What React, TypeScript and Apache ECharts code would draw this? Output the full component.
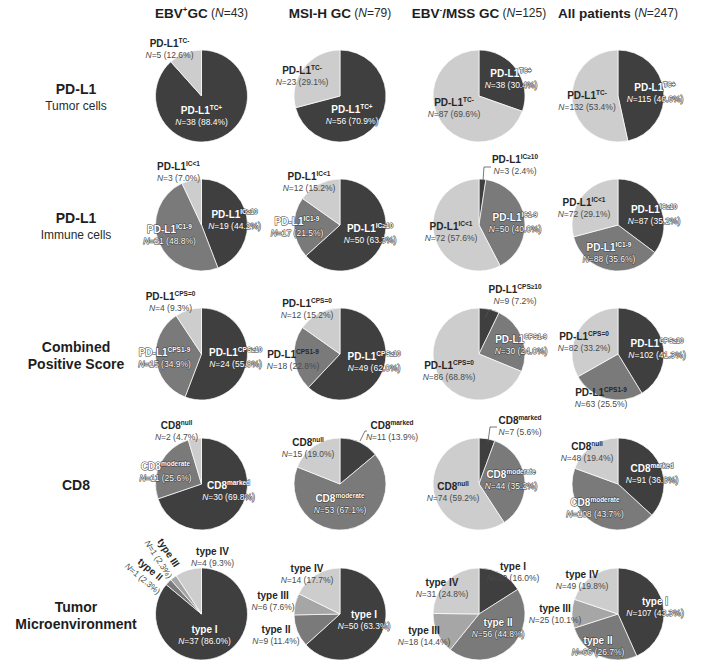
import React, { useEffect, useRef } from 'react';
import * as echarts from 'echarts';

// ---------- data ----------
const groupTitles = [['EBV', '+', 'GC'], ['MSI-H GC', '', ''], ['EBV', '-', '/MSS GC'], ['All patients', '', '']];
const groupTotals = [43, 79, 125, 247];

const rowTitles = [['PD-L1', 'Tumor cells'], ['PD-L1', 'Immune cells'], ['Combined', 'Positive Score'], ['CD8', ''], ['Tumor', 'Microenvironment']];

const tcCategories = [['PD-L1', 'TC+'], ['PD-L1', 'TC-']];
const tcCounts = [[38, 5], [56, 23], [38, 87], [115, 132]];
const tcPct = [['88.4', '12.6'], ['70.9', '29.1'], ['30.4', '69.6'], ['46.6', '53.4']];

const icCategories = [['PD-L1', 'IC≥10'], ['PD-L1', 'IC1-9'], ['PD-L1', 'IC<1']];
const icCounts = [[19, 21, 3], [50, 17, 12], [3, 50, 72], [87, 88, 72]];
const icPct = [['44.2', '48.8', '7.0'], ['63.3', '21.5', '15.2'], ['2.4', '40.0', '57.6'], ['35.2', '35.6', '29.1']];

const cpsCategories = [['PD-L1', 'CPS≥10'], ['PD-L1', 'CPS1-9'], ['PD-L1', 'CPS=0']];
const cpsCounts = [[24, 15, 4], [49, 18, 12], [9, 30, 86], [102, 63, 82]];
const cpsPct = [['55.8', '34.9', '9.3'], ['62.0', '22.8', '15.2'], ['7.2', '24.0', '68.8'], ['41.3', '25.5', '33.2']];

const cd8Categories = [['CD8', 'marked'], ['CD8', 'moderate'], ['CD8', 'null']];
const cd8Counts = [[30, 11, 2], [11, 53, 15], [7, 44, 74], [91, 108, 48]];
const cd8Pct = [['69.8', '25.6', '4.7'], ['13.9', '67.1', '19.0'], ['5.6', '35.2', '59.2'], ['36.8', '43.7', '19.4']];

const tmeCategories = [['type I', ''], ['type II', ''], ['type III', ''], ['type IV', '']];
const tmeCounts = [[37, 1, 1, 4], [50, 9, 6, 14], [20, 56, 18, 31], [107, 66, 25, 49]];
const tmePct = [['86.0', '2.3', '2.3', '9.3'], ['63.3', '11.4', '7.6', '17.7'], ['16.0', '44.8', '14.4', '24.8'], ['43.3', '26.7', '10.1', '19.8']];

const rowsData = [
  { cats: tcCategories, counts: tcCounts, pct: tcPct },
  { cats: icCategories, counts: icCounts, pct: icPct },
  { cats: cpsCategories, counts: cpsCounts, pct: cpsPct },
  { cats: cd8Categories, counts: cd8Counts, pct: cd8Pct },
  { cats: tmeCategories, counts: tmeCounts, pct: tmePct },
];

// ---------- layout / style ----------
const FONT = '"Liberation Sans", Arial, Helvetica, sans-serif';
const colX = [201.5, 340, 479, 618];
const rowY = [96, 225, 354, 484, 614];
const RADIUS = 46;
const DARK = '#3f3f3f';
const MID = '#7a7a7a';
const MID2 = '#a6a6a6';
const LIGHT = '#cdcdcd';
const rowColors = [
  [DARK, LIGHT],
  [DARK, MID, LIGHT],
  [DARK, MID, LIGHT],
  [DARK, MID, LIGHT],
  [DARK, MID, MID2, LIGHT],
];

// label offsets from pie centre: [dx, dy, mode('w' white / 'd' dark), rotationDeg]
const labelPos: any[][][] = [
  [
    [[0, 20, 'w'], [-32, -47, 'd']],
    [[12, 19, 'w'], [-38, -20, 'd']],
    [[32, -17, 'w'], [-25, 12, 'd']],
    [[37, -3, 'w'], [-31, 5, 'd']],
  ],
  [
    [[33, -5, 'w'], [-32, 10, 'w'], [-23, -53, 'd']],
    [[30, 9, 'w'], [-43, 2, 'w'], [-31, -43, 'd']],
    [[36, -60, 'd'], [36, -2, 'w'], [-28, 7, 'd']],
    [[36, -10, 'w'], [-9, 28, 'w'], [-34, -17, 'd']],
  ],
  [
    [[34, 4, 'w'], [-37, 4, 'w'], [-31, -52, 'd']],
    [[34, 8, 'w'], [-47, 6, 'd'], [-33, -45, 'd']],
    [[36, -59, 'd'], [42, -9, 'w'], [-30, 17, 'd']],
    [[39, -5, 'w'], [-17, 44, 'd'], [-34, -12, 'd']],
  ],
  [
    [[27, 7, 'w'], [-36, -12, 'w'], [-25, -53, 'd']],
    [[52, -53, 'd'], [0, 20, 'w'], [-32, -36, 'd']],
    [[41, -58, 'd'], [32, -4, 'w'], [-26, 8, 'd']],
    [[34, -10, 'w'], [-23, 24, 'w'], [-31, -32, 'd']],
  ],
  [
    [[3, 21, 'w'], [-55, -40, 'd', -40], [-38, -58, 'd', -57], [11, -57, 'd']],
    [[24, 6, 'w'], [-64, 21, 'd'], [-67, -13, 'd'], [-33, -40, 'd']],
    [[34, -42, 'd'], [19, 14, 'w'], [-55, 22, 'd'], [-37, -26, 'd']],
    [[37, -7, 'w'], [-20, 32, 'w'], [-63, 0, 'd'], [-36, -34, 'd']],
  ],
];

// leader lines: [row, col, points relative to pie centre]
const leaders: [number, number, number[][]][] = [
  [1, 2, [[4, -44], [5, -58], [12, -58]]],
  [2, 2, [[6, -36], [10, -44], [13, -44]]],
  [3, 1, [[20, -43], [25, -53], [27, -53]]],
  [3, 2, [[9, -42], [11, -57], [18, -57]]],
];

function labelRich(mode: string) {
  const white = mode === 'w';
  const c1 = white ? '#ffffff' : '#262626';
  const c2 = white ? '#ffffff' : '#4a4a4a';
  const stroke = white ? { stroke: '#3a3a3a', lineWidth: 1 } : {};
  return {
    b: { fontFamily: FONT, fontSize: 10, fontWeight: 'bold', fill: c1, lineHeight: 12, ...stroke },
    s: { fontFamily: FONT, fontSize: 6.5, fontWeight: 'bold', fill: c1, verticalAlign: 'top', lineHeight: 8, ...stroke },
    i: { fontFamily: FONT, fontSize: 8.5, fontStyle: 'italic', fill: c2, lineHeight: 12, ...stroke },
    n: { fontFamily: FONT, fontSize: 8.5, fill: c2, lineHeight: 12, ...stroke },
  };
}

export default function App() {
  const ref = useRef<HTMLDivElement>(null);
  useEffect(() => {
    document.body.style.margin = '0';
    if (!ref.current) return;
    const chart = echarts.init(ref.current, undefined, { renderer: 'svg' });

    const series: any[] = [];
    const graphics: any[] = [];

    rowsData.forEach((rd, r) => {
      rd.counts.forEach((vals, c) => {
        series.push({
          type: 'pie',
          center: [colX[c], rowY[r]],
          radius: RADIUS,
          startAngle: 90,
          clockwise: true,
          silent: true,
          label: { show: false },
          labelLine: { show: false },
          emphasis: { disabled: true },
          itemStyle: { borderColor: '#ffffff', borderWidth: 0.7 },
          data: vals.map((v, k) => ({
            name: rd.cats[k][0] + rd.cats[k][1],
            value: v,
            itemStyle: { color: rowColors[r][k] },
          })),
        });
        vals.forEach((v, k) => {
          const p = labelPos[r][c][k];
          const sup = rd.cats[k][1] ? `{s|${rd.cats[k][1]}}` : '';
          const text = `{b|${rd.cats[k][0]}}${sup}\n{i|N}{n|=${v} (${rd.pct[c][k]}%)}`;
          graphics.push({
            type: 'text',
            x: colX[c] + p[0],
            y: rowY[r] + p[1],
            rotation: p[3] ? (p[3] * Math.PI) / 180 : 0,
            silent: true,
            z: 10,
            style: {
              text,
              align: 'center',
              verticalAlign: 'middle',
              textAlign: 'center',
              textVerticalAlign: 'middle',
              rich: labelRich(p[2]),
            },
          });
        });
      });
    });

    leaders.forEach(([r, c, pts]) => {
      graphics.push({
        type: 'polyline',
        silent: true,
        z: 9,
        shape: { points: pts.map(([dx, dy]) => [colX[c] + dx, rowY[r] + dy]) },
        style: { stroke: '#555555', lineWidth: 0.8, fill: null },
      });
    });

    // column headers
    groupTitles.forEach((g, c) => {
      const sup = g[1] ? `{bs|${g[1]}}` : '';
      const tail = g[2] ? `{b|${g[2]}}` : '';
      graphics.push({
        type: 'text',
        x: colX[c],
        y: 13,
        silent: true,
        style: {
          text: `{b|${g[0]}}${sup}${tail}{r| (}{ri|N}{r|=${groupTotals[c]})}`,
          align: 'center',
          verticalAlign: 'middle',
          textAlign: 'center',
          textVerticalAlign: 'middle',
          rich: {
            b: { fontFamily: FONT, fontSize: 13.5, fontWeight: 'bold', fill: '#1e1e1e', lineHeight: 16 },
            bs: { fontFamily: FONT, fontSize: 8, fontWeight: 'bold', fill: '#1e1e1e', verticalAlign: 'top', lineHeight: 10 },
            r: { fontFamily: FONT, fontSize: 12, fill: '#2a2a2a', lineHeight: 16 },
            ri: { fontFamily: FONT, fontSize: 12, fontStyle: 'italic', fill: '#2a2a2a', lineHeight: 16 },
          },
        },
      });
    });

    // row titles
    rowTitles.forEach((t, r) => {
      const bothBold = r === 2 || r === 4;
      const text = t[1] ? `{b|${t[0]}}\n{${bothBold ? 'b' : 'r'}|${t[1]}}` : `{b|${t[0]}}`;
      graphics.push({
        type: 'text',
        x: 76,
        y: rowY[r] + 1,
        silent: true,
        style: {
          text,
          align: 'center',
          verticalAlign: 'middle',
          textAlign: 'center',
          textVerticalAlign: 'middle',
          rich: {
            b: { fontFamily: FONT, fontSize: 14, fontWeight: 'bold', fill: '#1e1e1e', lineHeight: 17 },
            r: { fontFamily: FONT, fontSize: 12, fill: '#2a2a2a', lineHeight: 17 },
          },
        },
      });
    });

    chart.setOption({
      animation: false,
      backgroundColor: '#ffffff',
      series,
      graphic: { elements: graphics },
    });
    return () => chart.dispose();
  }, []);
  return <div ref={ref} style={{ width: 705, height: 666 }} />;
}
